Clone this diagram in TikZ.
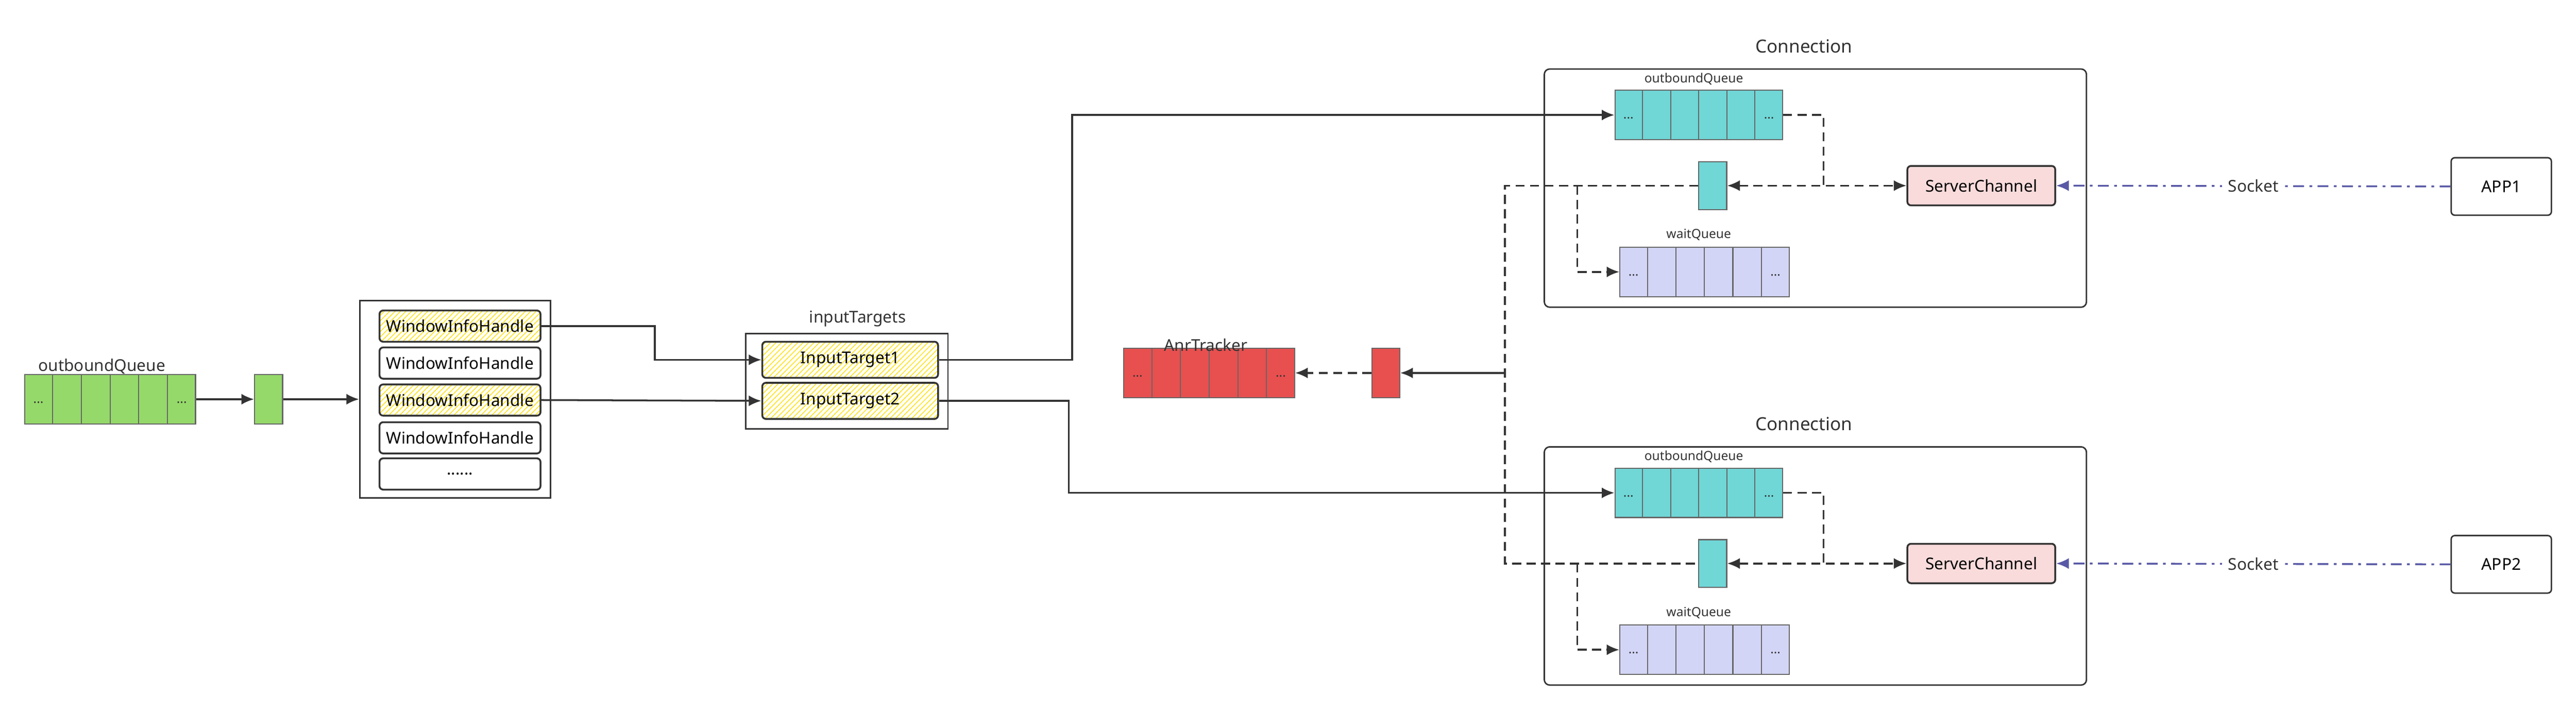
\documentclass[tikz,border=0pt]{standalone}
\usepackage{fontspec}
\setmainfont{Noto Sans}
\usetikzlibrary{calc,patterns,arrows.meta}
\newdimen\pu \pu=0.3194mm
\definecolor{qgreen}{HTML}{95D96A}
\definecolor{qteal}{HTML}{70D6D6}
\definecolor{qred}{HTML}{E84F4F}
\definecolor{qblue}{HTML}{D3D5F7}
\definecolor{qpink}{HTML}{F9DBDB}
\definecolor{ink}{HTML}{333333}
\tikzset{
  queue/.style={draw=gray!80!black,line width=0.6pt,minimum width=104\pu,minimum height=30\pu,inner sep=0pt},
  cellline/.style={draw=gray!80!black,line width=0.6pt},
  single/.style={queue,minimum width=17\pu},
  item/.style={draw=ink,line width=1pt,rounded corners=2pt,minimum width=98\pu,minimum height=19\pu,inner sep=0pt,font=\small},
  hatch/.style={pattern=north east lines,pattern color=yellow!75!orange},
  frame/.style={draw=ink,line width=0.8pt,inner sep=0pt},
  title/.style={font=\bfseries\small,text=ink},
  flow/.style={draw=ink,line width=1pt,-{Latex[length=7pt,width=6pt]}},
  dline/.style={draw=ink,line width=1pt,dash pattern=on 5pt off 3pt},
  dflow/.style={dline,-{Latex[length=7pt,width=6pt]}},
  sock/.style={draw=gray!70!blue,line width=1pt,dash pattern=on 6pt off 3pt on 1.5pt off 3pt,-{Latex[length=7pt,width=6pt]}},
}
% queue of six cells with dots at both ends
\newcommand\queuebox[5]{%
  \node[queue,fill=#4,minimum width=#5\pu] (#1) at (#2,#3) {};
  \foreach \i in {1,...,5}
    \draw[cellline] ($(#1.north west)!\i/6!(#1.north east)$) -- ($(#1.south west)!\i/6!(#1.south east)$);
  \node[font=\scriptsize,text=ink] at ($(#1.west)!1/12!(#1.east)+(0,2)$) {...};
  \node[font=\scriptsize,text=ink] at ($(#1.west)!11/12!(#1.east)+(0,2)$) {...};
}
\begin{document}
\begin{tikzpicture}[x=\pu,y=-\pu]
\useasboundingbox (0,0) rectangle (1568,433.3);
% left side
\queuebox{q0}{67}{243}{qgreen}{104}
\node[title] at (62,223) {outboundQueue};
\node[single,fill=qgreen] (g1) at (163.5,243) {};
\node[frame,minimum width=116\pu,minimum height=120\pu] (handles) at (277,243) {};
\node[item,hatch] (wih1) at (280,198.5) {WindowInfoHandle};
\node[item] (wih2) at (280,221) {WindowInfoHandle};
\node[item,hatch] (wih3) at (280,243.5) {WindowInfoHandle};
\node[item] (wih4) at (280,266.5) {WindowInfoHandle};
\node[item] (wih5) at (280,288.5) {......};
\node[frame,minimum width=123\pu,minimum height=58\pu] (targets) at (515.5,232) {};
\node[title] at (522,194) {inputTargets};
\node[item,hatch,minimum width=107\pu,minimum height=22\pu] (it1) at (517.5,219) {InputTarget1};
\node[item,hatch,minimum width=107\pu,minimum height=22\pu] (it2) at (517.5,244) {InputTarget2};
% anr
\queuebox{anr}{736}{227}{qred}{104}
\node[title] at (734,210) {AnrTracker};
\node[single,fill=qred] (r1) at (843.5,227) {};
% connections
\foreach \n/\dy in {1/0,2/230}{
  \node[frame,rounded corners=3pt,minimum width=330\pu,minimum height=145\pu] (conn\n) at (1105,114.5+\dy) {};
  \node[title,font=\bfseries\normalsize] at (1098,28+\dy) {Connection};
  \queuebox{oq\n}{1034}{70+\dy}{qteal}{102}
  \node[title,font=\bfseries\scriptsize] at (1031,48+\dy) {outboundQueue};
  \node[single,fill=qteal,minimum height=29\pu] (ts\n) at (1042.5,113+\dy) {};
  \node[item,fill=qpink,minimum width=90\pu,minimum height=24\pu] (sc\n) at (1206,113+\dy) {ServerChannel};
  \queuebox{wq\n}{1037.5}{165.5+\dy}{qblue}{103}
  \node[title,font=\bfseries\scriptsize] at (1034,143+\dy) {waitQueue};
  \node[frame,rounded corners=2pt,minimum width=61\pu,minimum height=35\pu,font=\small] (app\n) at (1522.5,113.5+\dy) {APP\n};
  \coordinate (j\n) at (1110,113+\dy);
  \coordinate (b\n) at (960,113+\dy);
  \draw[dline] (oq\n.east) -| (j\n);
  \draw[dflow,{Latex[length=7pt,width=6pt]}-{Latex[length=7pt,width=6pt]}] (ts\n.east) -- (sc\n.west);
  \draw[dflow] (b\n) |- (wq\n.west);
  \draw[sock] (app\n.west) -- node[fill=white,font=\small,text=ink] {Socket} (sc\n.east);
}
\coordinate (t1) at (916,113);
\coordinate (t2) at (916,343);
\coordinate (tr) at (916,227);
\draw[dline] (ts1.west) -- (t1) -- (t2) -- (ts2.west);
\draw[flow] (tr) -- (r1);
\draw[dflow] (r1) -- (anr);
% flows
\draw[flow] (q0) -- (g1);
\draw[flow] (g1) -- (handles);
\draw[flow] (wih1.east) -- ++(69,0) |- (it1.west);
\draw[flow] (wih3.east) -- (it2.west);
\draw[flow] (it1.east) -- ++(81,0) |- (oq1.west);
\draw[flow] (it2.east) -- ++(79,0) |- (oq2.west);
\end{tikzpicture}
\end{document}
